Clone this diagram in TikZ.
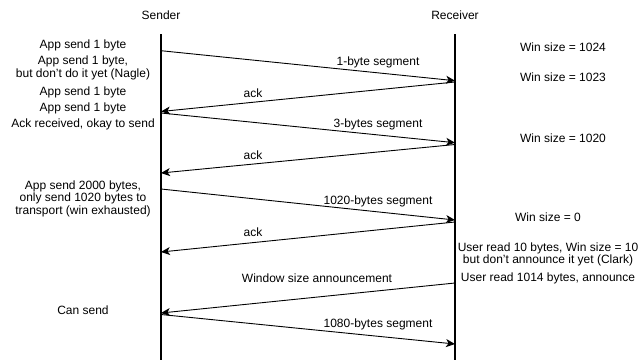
\documentclass[tikz,border=0pt]{standalone}
\usepackage{fontspec}
\setmainfont{Liberation Sans}
\usetikzlibrary{arrows.meta}
\tikzset{
  lifeline/.style={line width=1.2bp},
  msg/.style={line width=0.9bp, -{Stealth[length=9bp,width=8bp,inset=2.5bp]}},
  txt/.style={inner sep=0pt, align=center, font=\fontsize{12bp}{12.5bp}\selectfont},
}
\begin{document}
\begin{tikzpicture}[x=1bp,y=-1bp]
\useasboundingbox (0,0) rectangle (642,360);

% participants
\node[txt] (sender) at (161,15) {Sender};
\node[txt] (receiver) at (455,15) {Receiver};

% lifelines
\coordinate (stop) at (161,34);
\coordinate (sbot) at (161,360);
\coordinate (rtop) at (455,34);
\coordinate (rbot) at (455,360);
\draw[lifeline] (stop) -- (sbot);
\draw[lifeline] (rtop) -- (rbot);

% message end points on the lifelines
\coordinate (s1) at (161,50.7);  \coordinate (r1) at (455,80.7);
\coordinate (r2) at (455,82);    \coordinate (s2) at (161,111.5);
\coordinate (s3) at (161,113);   \coordinate (r3) at (455,142.7);
\coordinate (r4) at (455,144.5); \coordinate (s4) at (161,173);
\coordinate (s5) at (161,189);   \coordinate (r5) at (455,220);
\coordinate (r6) at (455,222);   \coordinate (s6) at (161,252);
\coordinate (r7) at (455,283);   \coordinate (s7) at (161,313);
\coordinate (s8) at (161,314.5); \coordinate (r8) at (455,344);

% messages
\draw[msg] (s1) -- (r1);
\draw[msg] (r2) -- (s2);
\draw[msg] (s3) -- (r3);
\draw[msg] (r4) -- (s4);
\draw[msg] (s5) -- (r5);
\draw[msg] (r6) -- (s6);
\draw[msg] (r7) -- (s7);
\draw[msg] (s8) -- (r8);

% message labels
\node[txt] (m1) at (378,62)  {1-byte segment};
\node[txt] (m2) at (253,93)  {ack};
\node[txt] (m3) at (378,124) {3-bytes segment};
\node[txt] (m4) at (253,155) {ack};
\node[txt] (m5) at (378,201) {1020-bytes segment};
\node[txt] (m6) at (253,232) {ack};
\node[txt] (m7) at (317,278) {Window size announcement};
\node[txt] (m8) at (378,324) {1080-bytes segment};

% sender side notes
\node[txt] (n1) at (83,45.7) {App send 1 byte};
\node[txt] (n2) at (83,68)   {App send 1 byte,\\but don't do it yet (Nagle)};
\node[txt] (n3) at (83,92)   {App send 1 byte};
\node[txt] (n4) at (83,108)  {App send 1 byte};
\node[txt] (n5) at (83,124)  {Ack received, okay to send};
\node[txt] (n6) at (83,198.5){App send 2000 bytes,\\only send 1020 bytes to\\transport (win exhausted)};
\node[txt] (n7) at (83,310)  {Can send};

% receiver side notes
\node[txt] (w1) at (563,47)  {Win size = 1024};
\node[txt] (w2) at (563,77)  {Win size = 1023};
\node[txt] (w3) at (563,138) {Win size = 1020};
\node[txt] (w4) at (548,217) {Win size = 0};
\node[txt] (w5) at (548,254.5) {User read 10 bytes, Win size = 10\\but don't announce it yet (Clark)};
\node[txt] (w6) at (548,278) {User read 1014 bytes, announce};
\end{tikzpicture}
\end{document}
